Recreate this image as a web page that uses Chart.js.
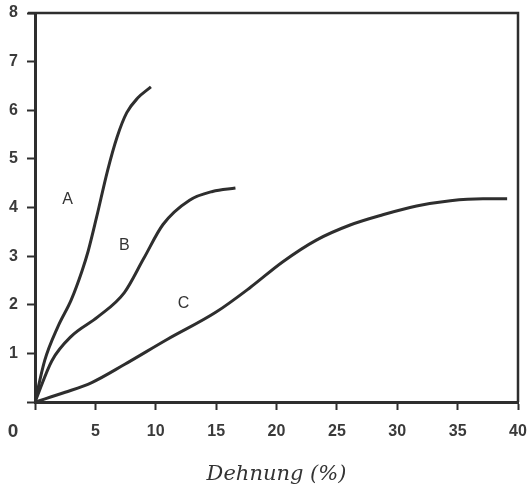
<!DOCTYPE html>
<html>
<head>
<meta charset="utf-8">
<script src="https://cdn.jsdelivr.net/npm/chart.js@4.4.1/dist/chart.umd.min.js"></script>
<style>
  html, body { margin: 0; padding: 0; background: #fff; }
</style>
</head>
<body>
<canvas id="dehnungChart" width="528" height="491"></canvas>
<script>
// Kurve A
const aX = [0, 0.8, 1.9, 3.0, 3.9, 4.4, 5.1, 6.0, 6.8, 7.6, 8.5, 9.6];
const aY = [0, 0.85, 1.55, 2.1, 2.7, 3.1, 3.8, 4.75, 5.45, 5.95, 6.25, 6.48];
// Kurve B
const bX = [0, 1.4, 3.0, 5.2, 7.4, 9.0, 10.6, 12.8, 14.7, 16.6];
const bY = [0, 0.85, 1.35, 1.75, 2.25, 2.95, 3.65, 4.15, 4.33, 4.40];
// Kurve C
const cX = [0, 2.5, 4.7, 7.4, 10.9, 15.0, 17.8, 20.5, 23.3, 26.1, 28.8, 31.6, 34.4, 37.1, 39.1];
const cY = [0, 0.2, 0.4, 0.77, 1.28, 1.85, 2.35, 2.88, 3.33, 3.64, 3.85, 4.03, 4.14, 4.18, 4.18];

const curveNames = ['A', 'B', 'C'];
const labelX = [2.7, 7.4, 12.3];
const labelY = [4.16, 3.21, 2.02];

const xMax = 40;
const yMax = 8;
const xStep = 5;
const yStep = 1;
const xTitle = 'Dehnung (%)';

const ink = '#2e2e2e';
const tickFont = { family: "'Liberation Sans', Arial, sans-serif", size: 16, weight: 'bold' };

function toPoints(xs, ys) {
    return xs.map((x, i) => ({ x: x, y: ys[i] }));
}

function curve(xs, ys) {
    return {
        data: toPoints(xs, ys),
        showLine: true,
        borderColor: ink,
        borderWidth: 3,
        pointRadius: 0,
        cubicInterpolationMode: 'monotone',
        fill: false
    };
}

// Rahmen oben und rechts, "0" in der Ecke, Kurvenbeschriftung
const extras = {
    id: 'extras',
    afterDatasetsDraw(chart) {
        const { ctx, chartArea, scales } = chart;
        ctx.save();
        ctx.strokeStyle = ink;
        ctx.lineWidth = 2.5;
        ctx.beginPath();
        ctx.moveTo(chartArea.left - 7, chartArea.top);
        ctx.lineTo(chartArea.right, chartArea.top);
        ctx.lineTo(chartArea.right, chartArea.bottom);
        ctx.stroke();

        ctx.fillStyle = '#333';
        ctx.font = "16px 'Liberation Sans', Arial, sans-serif";
        ctx.textAlign = 'center';
        ctx.textBaseline = 'middle';
        curveNames.forEach((name, i) => {
            ctx.fillText(name, scales.x.getPixelForValue(labelX[i]), scales.y.getPixelForValue(labelY[i]));
        });

        ctx.font = "bold 19px 'Liberation Sans', Arial, sans-serif";
        ctx.fillStyle = '#3a3a3a';
        ctx.fillText('0', chartArea.left - 22, chartArea.bottom + 30);
        ctx.restore();
    }
};

const ctx = document.getElementById('dehnungChart').getContext('2d');
const chart = new Chart(ctx, {
    type: 'scatter',
    data: {
        datasets: [curve(aX, aY), curve(bX, bY), curve(cX, cY)]
    },
    options: {
        responsive: false,
        animation: false,
        layout: { padding: { top: 13, right: 10, left: 0, bottom: 0 } },
        plugins: {
            legend: { display: false },
            tooltip: { enabled: false }
        },
        scales: {
            x: {
                type: 'linear',
                min: 0,
                max: xMax,
                afterFit(scale) {
                    scale.height = 89;
                    scale.paddingLeft = 0;
                    scale.paddingRight = 0;
                },
                ticks: {
                    stepSize: xStep,
                    color: '#3a3a3a',
                    font: tickFont,
                    padding: 12,
                    maxRotation: 0,
                    callback: v => (v === 0 ? '' : v)
                },
                grid: { drawOnChartArea: false, tickLength: 8, tickWidth: 2, tickColor: ink },
                border: { display: true, width: 3, color: ink },
                title: {
                    display: true,
                    text: xTitle,
                    color: '#333',
                    font: { family: "'DejaVu Serif', 'Liberation Serif', serif", size: 21, style: 'italic' },
                    padding: { top: 0, bottom: 4 }
                }
            },
            y: {
                type: 'linear',
                min: 0,
                max: yMax,
                afterFit(scale) {
                    scale.width = 35;
                    scale.paddingTop = 0;
                    scale.paddingBottom = 0;
                },
                ticks: {
                    stepSize: yStep,
                    color: '#3a3a3a',
                    font: tickFont,
                    padding: 9,
                    callback: v => (v === 0 ? '' : v)
                },
                grid: { drawOnChartArea: false, tickLength: 8, tickWidth: 2, tickColor: ink },
                border: { display: true, width: 3, color: ink }
            }
        }
    },
    plugins: [extras]
});
</script>
</body>
</html>
